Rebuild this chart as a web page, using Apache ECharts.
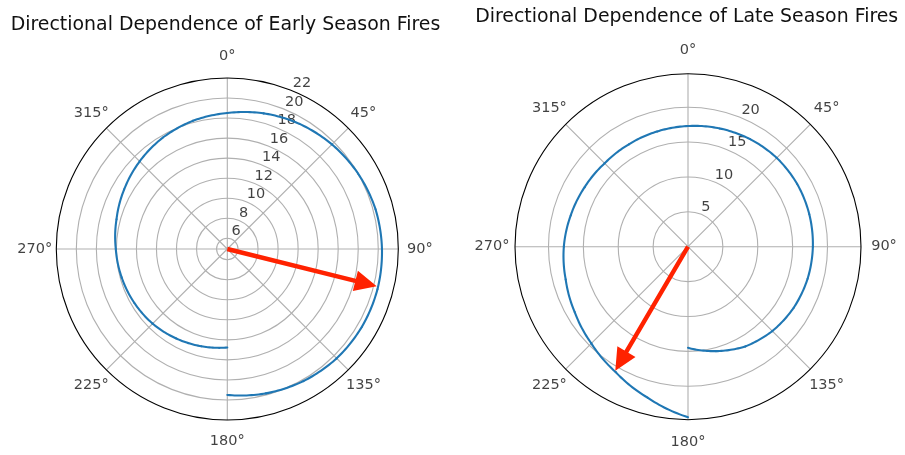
<!DOCTYPE html>
<html>
<head>
<meta charset="utf-8">
<script src="https://cdn.jsdelivr.net/npm/echarts@6/dist/echarts.min.js"></script>
<style>
  html, body { margin: 0; padding: 0; background: #fff; }
  #chart { width: 905px; height: 455px; }
</style>
</head>
<body>
<div id="chart"></div>
<script>
// Early season spiral: bearing in degrees (clockwise from north) and radius
const earlyAngles = [180, 195, 210, 225, 240, 255, 270, 285, 300, 315, 330, 345, 360,
                     375, 390, 405, 420, 435, 450, 465, 480, 495, 510, 525, 540];
const earlyRadius = [14.76, 14.98, 15.22, 15.47, 15.66, 15.85, 16.06, 16.38, 16.82, 17.3, 17.78, 18.18, 18.5,
                     18.95, 19.35, 19.7, 20.0, 20.25, 20.37, 20.45, 20.45, 20.37, 20.15, 19.85, 19.5];

// Late season spiral: runs anticlockwise from south back round to south
const lateAngles = [180, 165, 150, 135, 120, 105, 90, 75, 60, 45, 30, 15, 0,
                    -15, -30, -45, -60, -75, -90, -105, -120, -135, -150, -165, -180];
const lateRadius = [14.5, 15.5, 16.5, 17.1, 17.5, 17.75, 17.9, 18.0, 18.05, 18.0, 17.8, 17.55, 17.3,
                    17.1, 16.95, 16.9, 17.1, 17.4, 17.8, 18.15, 18.75, 19.6, 20.75, 22.4, 24.45];

// Mean direction arrows: [length, bearing]
const earlyArrow = [20.3, 104];
const lateArrow = [20.6, 210.4];

// Tick labels
const angleTicks = [0, 45, 90, 135, 180, 225, 270, 315];
const earlyRadiusTicks = [6, 8, 10, 12, 14, 16, 18, 20, 22];
const lateRadiusTicks = [5, 10, 15, 20];

const titles = ['Directional Dependence of Early Season Fires', 'Directional Dependence of Late Season Fires'];

const FONT = 'DejaVu Sans';
const TEXT = '#111';
const GRID = '#b0b0b0';
const LINE = '#1f77b4';
const ARROW = '#ff2200';
const TICK_SIZE = 14.5;

const panels = [
  { cx: 227.3, cy: 249, r: 171, rMin: 4.93, rMax: 22, pad: 21.5, titleX: 225.5, titleY: 23.3,
    angles: earlyAngles, radius: earlyRadius, arrow: earlyArrow, rTicks: earlyRadiusTicks },
  { cx: 688, cy: 246.7, r: 173, rMin: 0, rMax: 24.8, pad: 23, titleX: 686.7, titleY: 15.7,
    angles: lateAngles, radius: lateRadius, arrow: lateArrow, rTicks: lateRadiusTicks }
];

const polar = [], angleAxis = [], radiusAxis = [], series = [], title = [];

panels.forEach((p, i) => {
  const main = polar.length;
  polar.push({ center: [p.cx, p.cy], radius: p.r });
  angleAxis.push({
    polarIndex: main, type: 'value', min: 0, max: 360, interval: 45,
    startAngle: 90, clockwise: true,
    axisLine: { show: true, lineStyle: { color: '#000', width: 1.1 } },
    axisTick: { show: false }, axisLabel: { show: false },
    splitLine: { show: true, lineStyle: { color: GRID, width: 1.1 } },
    z: 2
  });
  radiusAxis.push({
    polarIndex: main, type: 'value', min: p.rMin, max: p.rMax,
    axisLine: { show: false },
    axisTick: { show: false, customValues: p.rTicks.filter(v => v < p.rMax) },
    axisLabel: { show: false },
    splitLine: { show: true, lineStyle: { color: GRID, width: 1.1 } }
  });

  // ring carrying the bearing labels just outside the plot edge
  const ring = polar.length;
  polar.push({ center: [p.cx, p.cy], radius: p.r + p.pad });
  angleAxis.push({
    polarIndex: ring, type: 'value', min: 0, max: 360, startAngle: 90, clockwise: true,
    axisLine: { show: false }, axisTick: { show: false }, axisLabel: { show: false }, splitLine: { show: false }
  });
  radiusAxis.push({
    polarIndex: ring, type: 'value', min: 0, max: 1,
    axisLine: { show: false }, axisTick: { show: false }, axisLabel: { show: false }, splitLine: { show: false }
  });

  series.push({
    type: 'scatter', coordinateSystem: 'polar', polarIndex: ring, silent: true,
    symbolSize: 1, itemStyle: { color: 'transparent' },
    data: angleTicks.map(a => [1, a]),
    label: {
      show: true, position: 'inside', align: 'center', verticalAlign: 'middle',
      formatter: q => q.value[1] + '°', fontFamily: FONT, fontSize: TICK_SIZE, color: TEXT
    }
  });

  // radial tick labels along the 22.5° bearing
  series.push({
    type: 'scatter', coordinateSystem: 'polar', polarIndex: main, silent: true,
    symbolSize: 1, itemStyle: { color: 'transparent' },
    data: p.rTicks.map(v => [v, 22.5]),
    label: {
      show: true, position: 'inside', align: 'left', verticalAlign: 'bottom',
      formatter: q => String(q.value[0]), fontFamily: FONT, fontSize: TICK_SIZE, color: TEXT
    },
    z: 3
  });

  // spiral: consecutive readings joined in polar space, so each piece follows the bearing sweep
  const segments = [];
  for (let k = 0; k + 1 < p.angles.length; k++) {
    segments.push([p.radius[k], p.angles[k], p.radius[k + 1], p.angles[k + 1]]);
  }
  series.push({
    type: 'custom', coordinateSystem: 'polar', polarIndex: main, silent: true,
    dimensions: ['r0', 'a0', 'r1', 'a1'],
    encode: { radius: 0, angle: 1 },
    data: segments,
    renderItem(params, api) {
      const r0 = api.value(0), a0 = api.value(1), r1 = api.value(2), a1 = api.value(3);
      const steps = 16, pts = [];
      for (let s = 0; s <= steps; s++) {
        const t = s / steps;
        pts.push(api.coord([r0 + (r1 - r0) * t, a0 + (a1 - a0) * t]));
      }
      return {
        type: 'polyline', shape: { points: pts },
        style: { stroke: LINE, lineWidth: 2.1, fill: null, lineCap: 'round', lineJoin: 'round' }
      };
    },
    z: 4
  });

  series.push({
    type: 'custom', coordinateSystem: 'polar', polarIndex: main, silent: true,
    data: [p.arrow],
    renderItem(params, api) {
      const cs = params.coordSys;
      const tip = api.coord([api.value(0), api.value(1)]);
      const dx = tip[0] - cs.cx, dy = tip[1] - cs.cy;
      const len = Math.hypot(dx, dy);
      const ux = dx / len, uy = dy / len, nx = -uy, ny = ux;
      const hl = 22, hw = 10.5, sw = 2.2;
      const bx = tip[0] - ux * hl, by = tip[1] - uy * hl;
      const pts = [
        [cs.cx + nx * sw, cs.cy + ny * sw],
        [bx + nx * sw, by + ny * sw],
        [bx + nx * hw, by + ny * hw],
        tip,
        [bx - nx * hw, by - ny * hw],
        [bx - nx * sw, by - ny * sw],
        [cs.cx - nx * sw, cs.cy - ny * sw]
      ];
      return { type: 'polygon', shape: { points: pts }, style: { fill: ARROW } };
    },
    z: 5
  });

  title.push({
    text: titles[i], left: p.titleX, top: p.titleY - 8, textAlign: 'center', padding: 0,
    textStyle: { fontFamily: FONT, fontSize: 18.9, fontWeight: 'normal', color: TEXT }
  });
});

const chart = echarts.init(document.getElementById('chart'), null, { renderer: 'canvas' });
chart.setOption({
  animation: false,
  backgroundColor: '#fff',
  title, polar, angleAxis, radiusAxis, series
});
</script>
</body>
</html>
